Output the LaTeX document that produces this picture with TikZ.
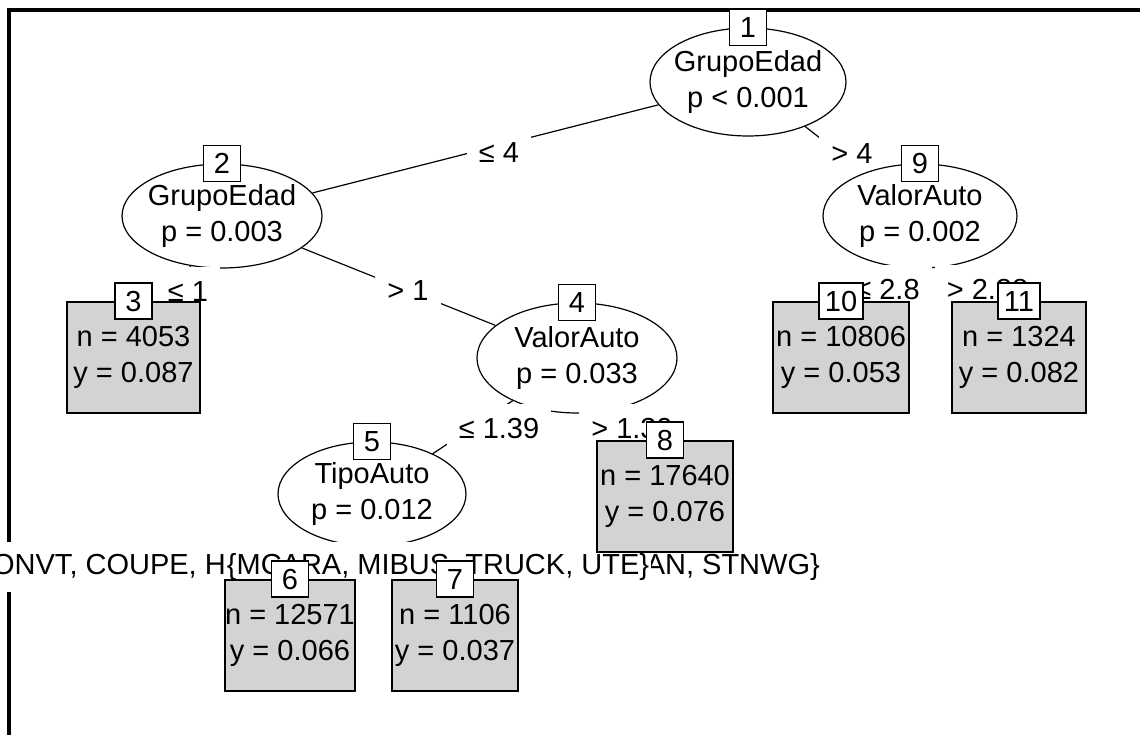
\documentclass[tikz,border=0pt]{standalone}
\usepackage{fontspec}
\setmainfont{Liberation Sans}
\usetikzlibrary{shapes.geometric}
\pgfdeclarelayer{background}
\pgfsetlayers{background,main}
\definecolor{termgray}{RGB}{211,211,211}
\newcommand{\splitlbl}[2]{\makebox[110pt]{#1}\\\makebox[110pt]{#2}}

\begin{document}
\begin{tikzpicture}[x=1pt, y=-1pt,
  every node/.style={font=\fontsize{29}{35.5}\selectfont, inner sep=0pt},
  innernode/.style={draw, ellipse, fill=white, line width=1.2pt, align=center},
  termnode/.style={draw, rectangle, fill=termgray, line width=1.7pt, align=center, minimum height=111pt},
  idbox/.style={draw, rectangle, fill=white, line width=1.4pt, inner xsep=6pt, minimum height=36pt, minimum width=37pt},
  edgelbl/.style={fill=white, minimum height=50pt, inner xsep=12pt},
  edge/.style={line width=1.2pt},
  frame/.style={line width=3.2pt}]
  \useasboundingbox (0,0) rectangle (1140,735);
  \draw[frame] (9,740) -- (9,10) -- (1145,10);

  % root
  \node[innernode, minimum width=196pt, minimum height=108pt] (n1) at (748,82) {\splitlbl{GrupoEdad}{p < 0.001}};
  \node[idbox] (id1) at (n1.north) {1};
  \node[edgelbl] (l12) at (499,153) {≤ 4};
  \node[edgelbl] (l19) at (852,154) {> 4};

  % left branch
  \node[innernode, minimum width=200pt, minimum height=104pt] (n2) at (222,216) {\splitlbl{GrupoEdad}{p = 0.003}};
  \node[idbox] (id2) at (n2.north) {2};
  \node[edgelbl] (l23) at (188,292) {≤ 1};
  \node[edgelbl] (l24) at (408,291) {> 1};
  \node[termnode, minimum width=133pt] (t3) at (133.5,357.5) {n = 4053\\y = 0.087};
  \node[idbox] (id3) at (t3.north) {3};

  \node[innernode, minimum width=200pt, minimum height=110pt] (n4) at (577,358) {\splitlbl{ValorAuto}{p = 0.033}};
  \node[idbox] (id4) at (n4.north) {4};
  \node[edgelbl] (l45) at (499,429) {≤ 1.39};
  \node[edgelbl] (l48) at (632,429) {> 1.39};

  \node[innernode, minimum width=188pt, minimum height=104pt] (n5) at (372,494) {\splitlbl{TipoAuto}{p = 0.012}};
  \node[idbox] (id5) at (n5.north) {5};
  \node[edgelbl, anchor=east] (l56) at (832,567) {CONVT, COUPE, H\hspace{420pt}AN, STNWG\}};
  \node[edgelbl, inner xsep=2pt] (l57) at (438,567) {\{MCARA, MIBUS, TRUCK, UTE\}};
  \node[termnode, minimum width=126pt] (t6) at (290,635.5) {n = 12571\\y = 0.066};
  \node[idbox] (id6) at (t6.north) {6};
  \node[termnode, minimum width=126pt] (t7) at (455,635.5) {n = 1106\\y = 0.037};
  \node[idbox] (id7) at (t7.north) {7};
  \node[termnode, minimum width=136pt] (t8) at (665,496.5) {n = 17640\\y = 0.076};
  \node[idbox] (id8) at (t8.north) {8};

  % right branch
  \node[innernode, minimum width=194pt, minimum height=104pt] (n9) at (920,216) {\splitlbl{ValorAuto}{p = 0.002}};
  \node[idbox] (id9) at (n9.north) {9};
  \node[edgelbl] (l910) at (887.5,290) {≤ 2.8};
  \node[edgelbl] (l911) at (987.5,290) {> 2.88};
  \node[termnode, minimum width=136pt] (t10) at (841,357.5) {n = 10806\\y = 0.053};
  \node[idbox] (id10) at (t10.north) {10};
  \node[termnode, minimum width=134pt] (t11) at (1019,357.5) {n = 1324\\y = 0.082};
  \node[idbox] (id11) at (t11.north) {11};

  \begin{pgfonlayer}{background}
    \foreach \a/\b in {n1/n2, n1/n9, n2/t3, n2/n4, n4/n5, n4/t8, n5/t6, n5/t7, n9/t10, n9/t11}
      \draw[edge] (\a) -- (\b);
  \end{pgfonlayer}
\end{tikzpicture}
\end{document}
